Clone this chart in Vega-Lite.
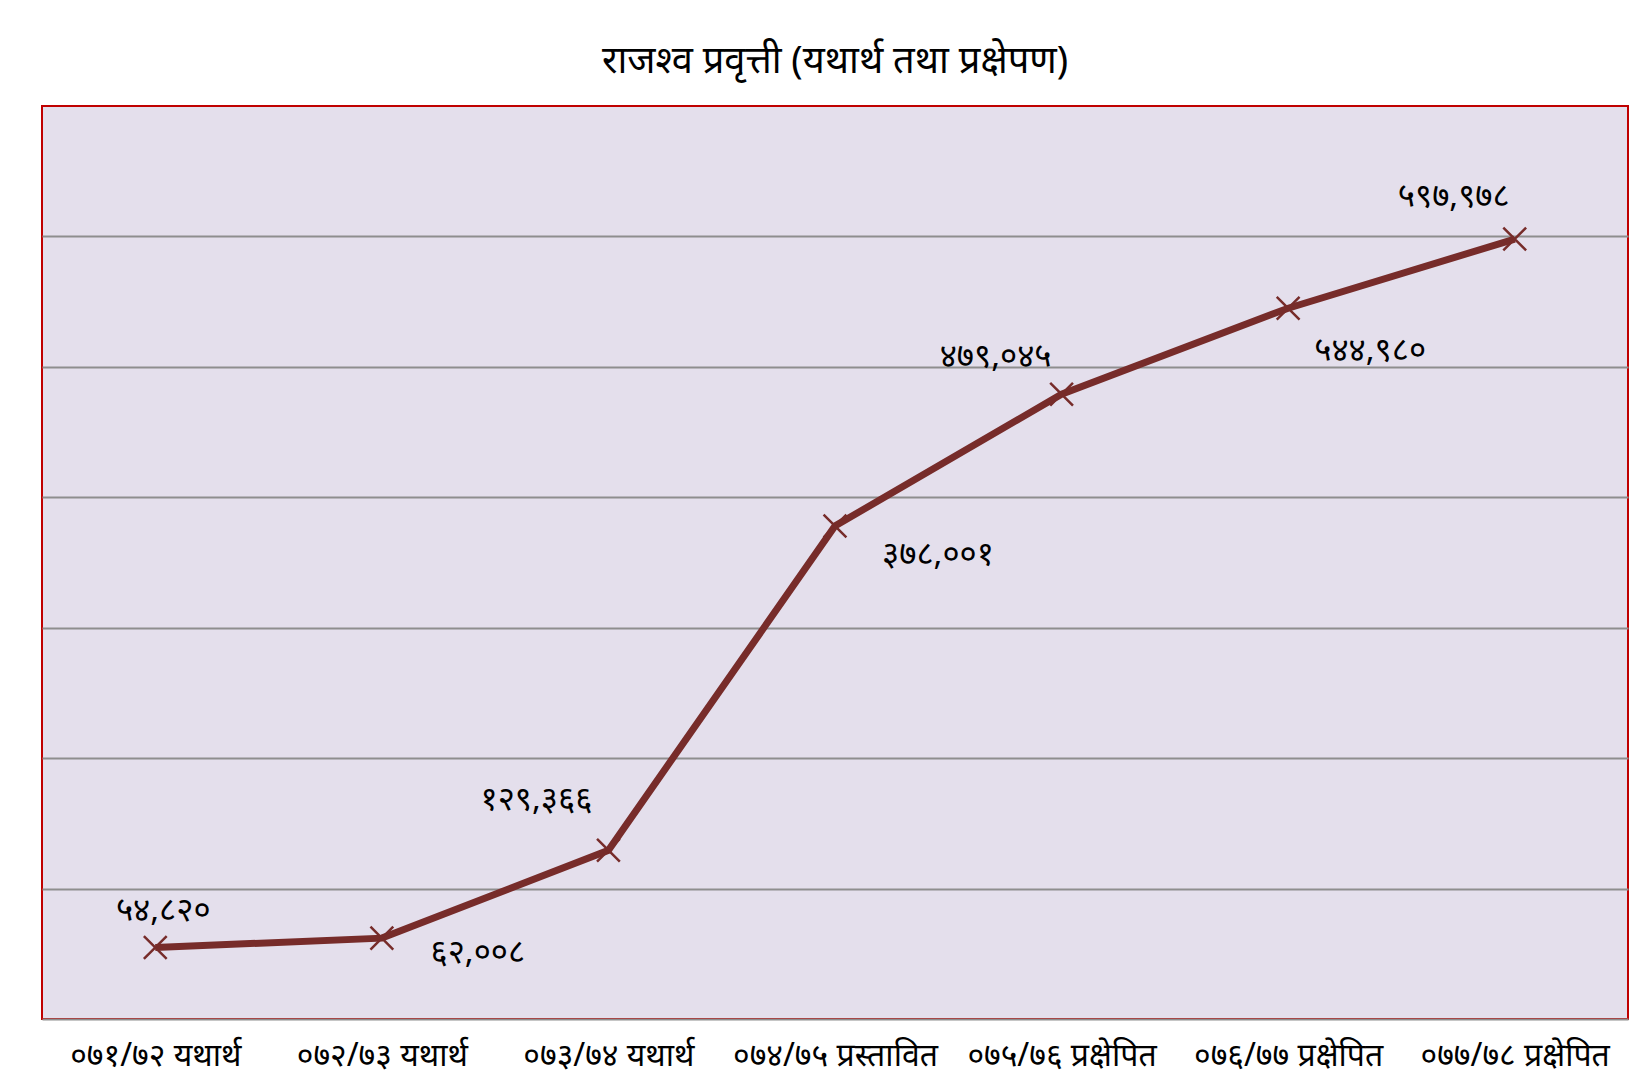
{
  "$schema": "https://vega.github.io/schema/vega-lite/v6.json",
  "width": 1586,
  "height": 913,
  "autosize": "none",
  "padding": {"left": 42, "top": 106, "right": 6, "bottom": 62},
  "background": "white",
  "title": {"text": "राजश्व प्रवृत्ती (यथार्थ तथा प्रक्षेपण)", "fontSize": 38, "font": "Noto Sans", "fontWeight": "normal", "color": "black", "offset": 25, "anchor": "middle", "limit": 0},
  "config": {
    "locale": {"number": {"decimal": ".", "thousands": ",", "grouping": [3], "currency": ["", ""], "numerals": ["०", "१", "२", "३", "४", "५", "६", "७", "८", "९"]}},
    "view": {"fill": "#E4DFEC", "stroke": "#C00000", "strokeWidth": 2},
    "font": "Noto Sans",
    "text": {"fontSize": 33, "letterSpacing": 4, "color": "black", "baseline": "middle"}
  },
  "data": {"values": [
    {"year": "०७१/७२ यथार्थ", "revenue": 54820},
    {"year": "०७२/७३ यथार्थ", "revenue": 62008},
    {"year": "०७३/७४ यथार्थ", "revenue": 129366},
    {"year": "०७४/७५ प्रस्तावित", "revenue": 378001},
    {"year": "०७५/७६ प्रक्षेपित", "revenue": 479045},
    {"year": "०७६/७७ प्रक्षेपित", "revenue": 544980},
    {"year": "०७७/७८ प्रक्षेपित", "revenue": 597978}
  ]},
  "encoding": {
    "x": {"field": "year", "type": "ordinal", "sort": null, "scale": {"type": "point", "padding": 0.5},
      "axis": {"title": null, "labelAngle": 0, "ticks": false, "labelPadding": 21, "labelFontSize": 32, "labelColor": "black", "domainColor": "#8E8E8E", "domainWidth": 2, "labelFont": "Noto Sans", "labelLimit": 0}},
    "y": {"field": "revenue", "type": "quantitative", "scale": {"domain": [0, 700000], "nice": false},
      "axis": {"title": null, "labels": false, "ticks": false, "domain": false, "values": [100000, 200000, 300000, 400000, 500000, 600000], "gridColor": "#8E8E8E", "gridWidth": 2, "gridOpacity": 1}}
  },
  "layer": [
    {"mark": {"type": "line", "color": "#772C2A", "strokeWidth": 7}},
    {"mark": {"type": "point", "shape": "M-1,-1L1,1M-1,1L1,-1", "filled": false, "stroke": "#772C2A", "strokeWidth": 2.5, "size": 520, "opacity": 1}},
    {"transform": [{"filter": {"field": "year", "equal": "०७१/७२ यथार्थ"}}],
      "mark": {"type": "text", "dx": 8, "dy": -36},
      "encoding": {"text": {"field": "revenue", "type": "quantitative", "format": ","}}},
    {"transform": [{"filter": {"field": "year", "equal": "०७२/७३ यथार्थ"}}],
      "mark": {"type": "text", "dx": 96, "dy": 15},
      "encoding": {"text": {"field": "revenue", "type": "quantitative", "format": ","}}},
    {"transform": [{"filter": {"field": "year", "equal": "०७३/७४ यथार्थ"}}],
      "mark": {"type": "text", "dx": -72, "dy": -50},
      "encoding": {"text": {"field": "revenue", "type": "quantitative", "format": ","}}},
    {"transform": [{"filter": {"field": "year", "equal": "०७४/७५ प्रस्तावित"}}],
      "mark": {"type": "text", "dx": 103, "dy": 29},
      "encoding": {"text": {"field": "revenue", "type": "quantitative", "format": ","}}},
    {"transform": [{"filter": {"field": "year", "equal": "०७५/७६ प्रक्षेपित"}}],
      "mark": {"type": "text", "dx": -66, "dy": -37},
      "encoding": {"text": {"field": "revenue", "type": "quantitative", "format": ","}}},
    {"transform": [{"filter": {"field": "year", "equal": "०७६/७७ प्रक्षेपित"}}],
      "mark": {"type": "text", "dx": 82, "dy": 43},
      "encoding": {"text": {"field": "revenue", "type": "quantitative", "format": ","}}},
    {"transform": [{"filter": {"field": "year", "equal": "०७७/७८ प्रक्षेपित"}}],
      "mark": {"type": "text", "dx": -61, "dy": -42},
      "encoding": {"text": {"field": "revenue", "type": "quantitative", "format": ","}}}
  ]
}
